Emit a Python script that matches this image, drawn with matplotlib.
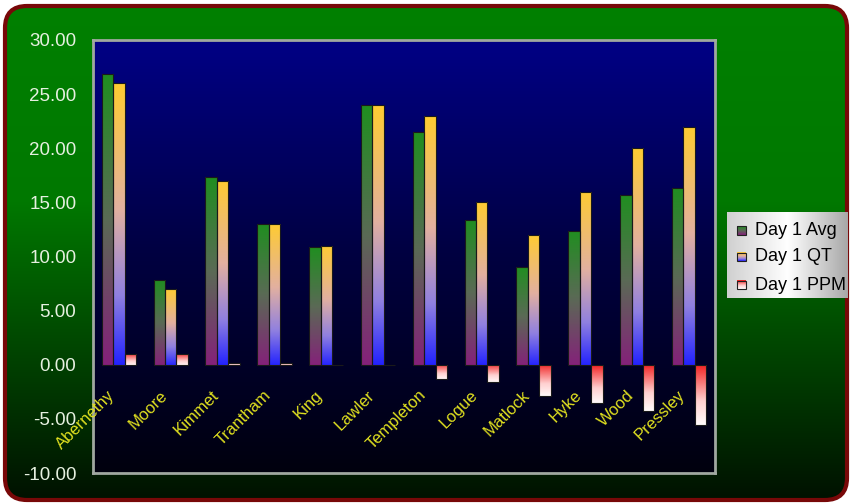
import numpy as np
import matplotlib.pyplot as plt
from matplotlib.colors import LinearSegmentedColormap
from matplotlib.patches import FancyBboxPatch

plt.rcParams['font.family'] = ['Liberation Sans', 'DejaVu Sans']

names = ['Abernethy', 'Moore', 'Kimmet', 'Trantham', 'King', 'Lawler',
         'Templeton', 'Logue', 'Matlock', 'Hyke', 'Wood', 'Pressley']
day1_avg = [26.9, 7.8, 17.3, 13.0, 10.9, 24.0, 21.5, 13.4, 9.0, 12.4, 15.7, 16.3]
day1_qt = [26.0, 7.0, 17.0, 13.0, 11.0, 24.0, 23.0, 15.0, 12.0, 16.0, 20.0, 22.0]
day1_ppm = [1.0, 1.0, 0.2, 0.15, 0.0, 0.0, -1.3, -1.6, -2.9, -3.5, -4.3, -5.6]
series_names = ['Day 1 Avg', 'Day 1 QT', 'Day 1 PPM']
yticks = np.arange(-10, 31, 5)

W, H = 851, 504

# colour ramps, top of bar first
cm_avg = LinearSegmentedColormap.from_list('avg', ['#1f8f1f', '#5a6a55', '#85207a'])
cm_qt = LinearSegmentedColormap.from_list(
    'qt', [(0, '#ffcc30'), (0.45, '#e2b0a0'), (0.75, '#9080e0'), (1, '#2020ff')])
cm_ppm = LinearSegmentedColormap.from_list(
    'ppm', [(0, '#f01818'), (0.6, '#ffd0d0'), (1, '#ffffff')])
cm_green = LinearSegmentedColormap.from_list(
    'green', [(0, '#008000'), (0.4, '#007800'), (1, '#001000')])
cm_plot = LinearSegmentedColormap.from_list('plot', ['#000085', '#000040', '#00000e'])
vgrad = np.linspace(0, 1, 256).reshape(-1, 1)

fig = plt.figure(figsize=(W / 100, H / 100), dpi=100)
fig.patch.set_facecolor('white')

# outer rounded green panel
bg = fig.add_axes([0, 0, 1, 1])
bg.set_xlim(0, W)
bg.set_ylim(0, H)
bg.axis('off')
frame = FancyBboxPatch((5, 4), W - 9, H - 10, boxstyle='round,pad=0,rounding_size=22',
                       fc='none', ec='#780808', lw=3, zorder=3)
bg.add_patch(frame)
im = bg.imshow(vgrad, cmap=cm_green, extent=[0, W, 0, H], aspect='auto', zorder=1)
im.set_clip_path(frame)

# main plot
ax = fig.add_axes([93 / W, 1 - 473 / H, (715 - 93) / W, (473 - 40) / H])
x = np.arange(len(names))
ax.imshow(vgrad, cmap=cm_plot, extent=[-0.5, 11.5, -10, 30], aspect='auto', zorder=0)

bw = 0.22
for vals, off, cmap in [(day1_avg, -bw, cm_avg), (day1_qt, 0, cm_qt), (day1_ppm, bw, cm_ppm)]:
    bars = ax.bar(x + off, vals, width=bw, fc='none', ec='#1a1a1a', lw=0.8, zorder=3)
    for rect, v in zip(bars, vals):
        if v == 0:
            continue
        x0 = rect.get_x()
        lo, hi = min(0, v), max(0, v)
        g = ax.imshow(vgrad, cmap=cmap, extent=[x0 - 0.02, x0 + bw + 0.02, lo - 0.15, hi + 0.15],
                      aspect='auto', zorder=2, interpolation='bilinear')
        g.set_clip_path(rect)

ax.set_xlim(-0.5, 11.5)
ax.set_ylim(-10, 30)
ax.set_xticks([])
ax.set_yticks(yticks)
ax.set_yticklabels(['%.2f' % t for t in yticks])
ax.tick_params(axis='y', length=0, pad=12, labelsize=13.5, labelcolor='#e6f0e0')
for s in ax.spines.values():
    s.set_color('#a0a8a0')
    s.set_linewidth(2)

for i, name in enumerate(names):
    ax.text(i - 0.22, -2.1, name, rotation=45, rotation_mode='anchor', ha='right',
            va='top', color='#e0e020', fontsize=12, clip_on=False, zorder=4)

# legend
lax = fig.add_axes([727 / W, 1 - 298 / H, 121 / W, 86 / H])
lax.axis('off')
hgrad = LinearSegmentedColormap.from_list('leg', ['#d0d0d0', '#ffffff', '#a8a8a8'])
lax.imshow(np.linspace(0, 1, 256).reshape(1, -1), cmap=hgrad, extent=[0, 1, 0, 1],
           aspect='auto', zorder=0)
for yy, label, cmap in zip([0.78, 0.477, 0.151], series_names, [cm_avg, cm_qt, cm_ppm]):
    lax.imshow(vgrad, cmap=cmap, extent=[0.083, 0.157, yy - 0.052, yy + 0.052],
               aspect='auto', zorder=1)
    lax.add_patch(plt.Rectangle((0.083, yy - 0.052), 0.074, 0.104, fc='none',
                                ec='#202020', lw=0.8, zorder=2))
    lax.text(0.23, yy, label, va='center', ha='left', fontsize=13, color='black')
lax.set_xlim(0, 1)
lax.set_ylim(0, 1)

fig.savefig('out.png', dpi=100)
